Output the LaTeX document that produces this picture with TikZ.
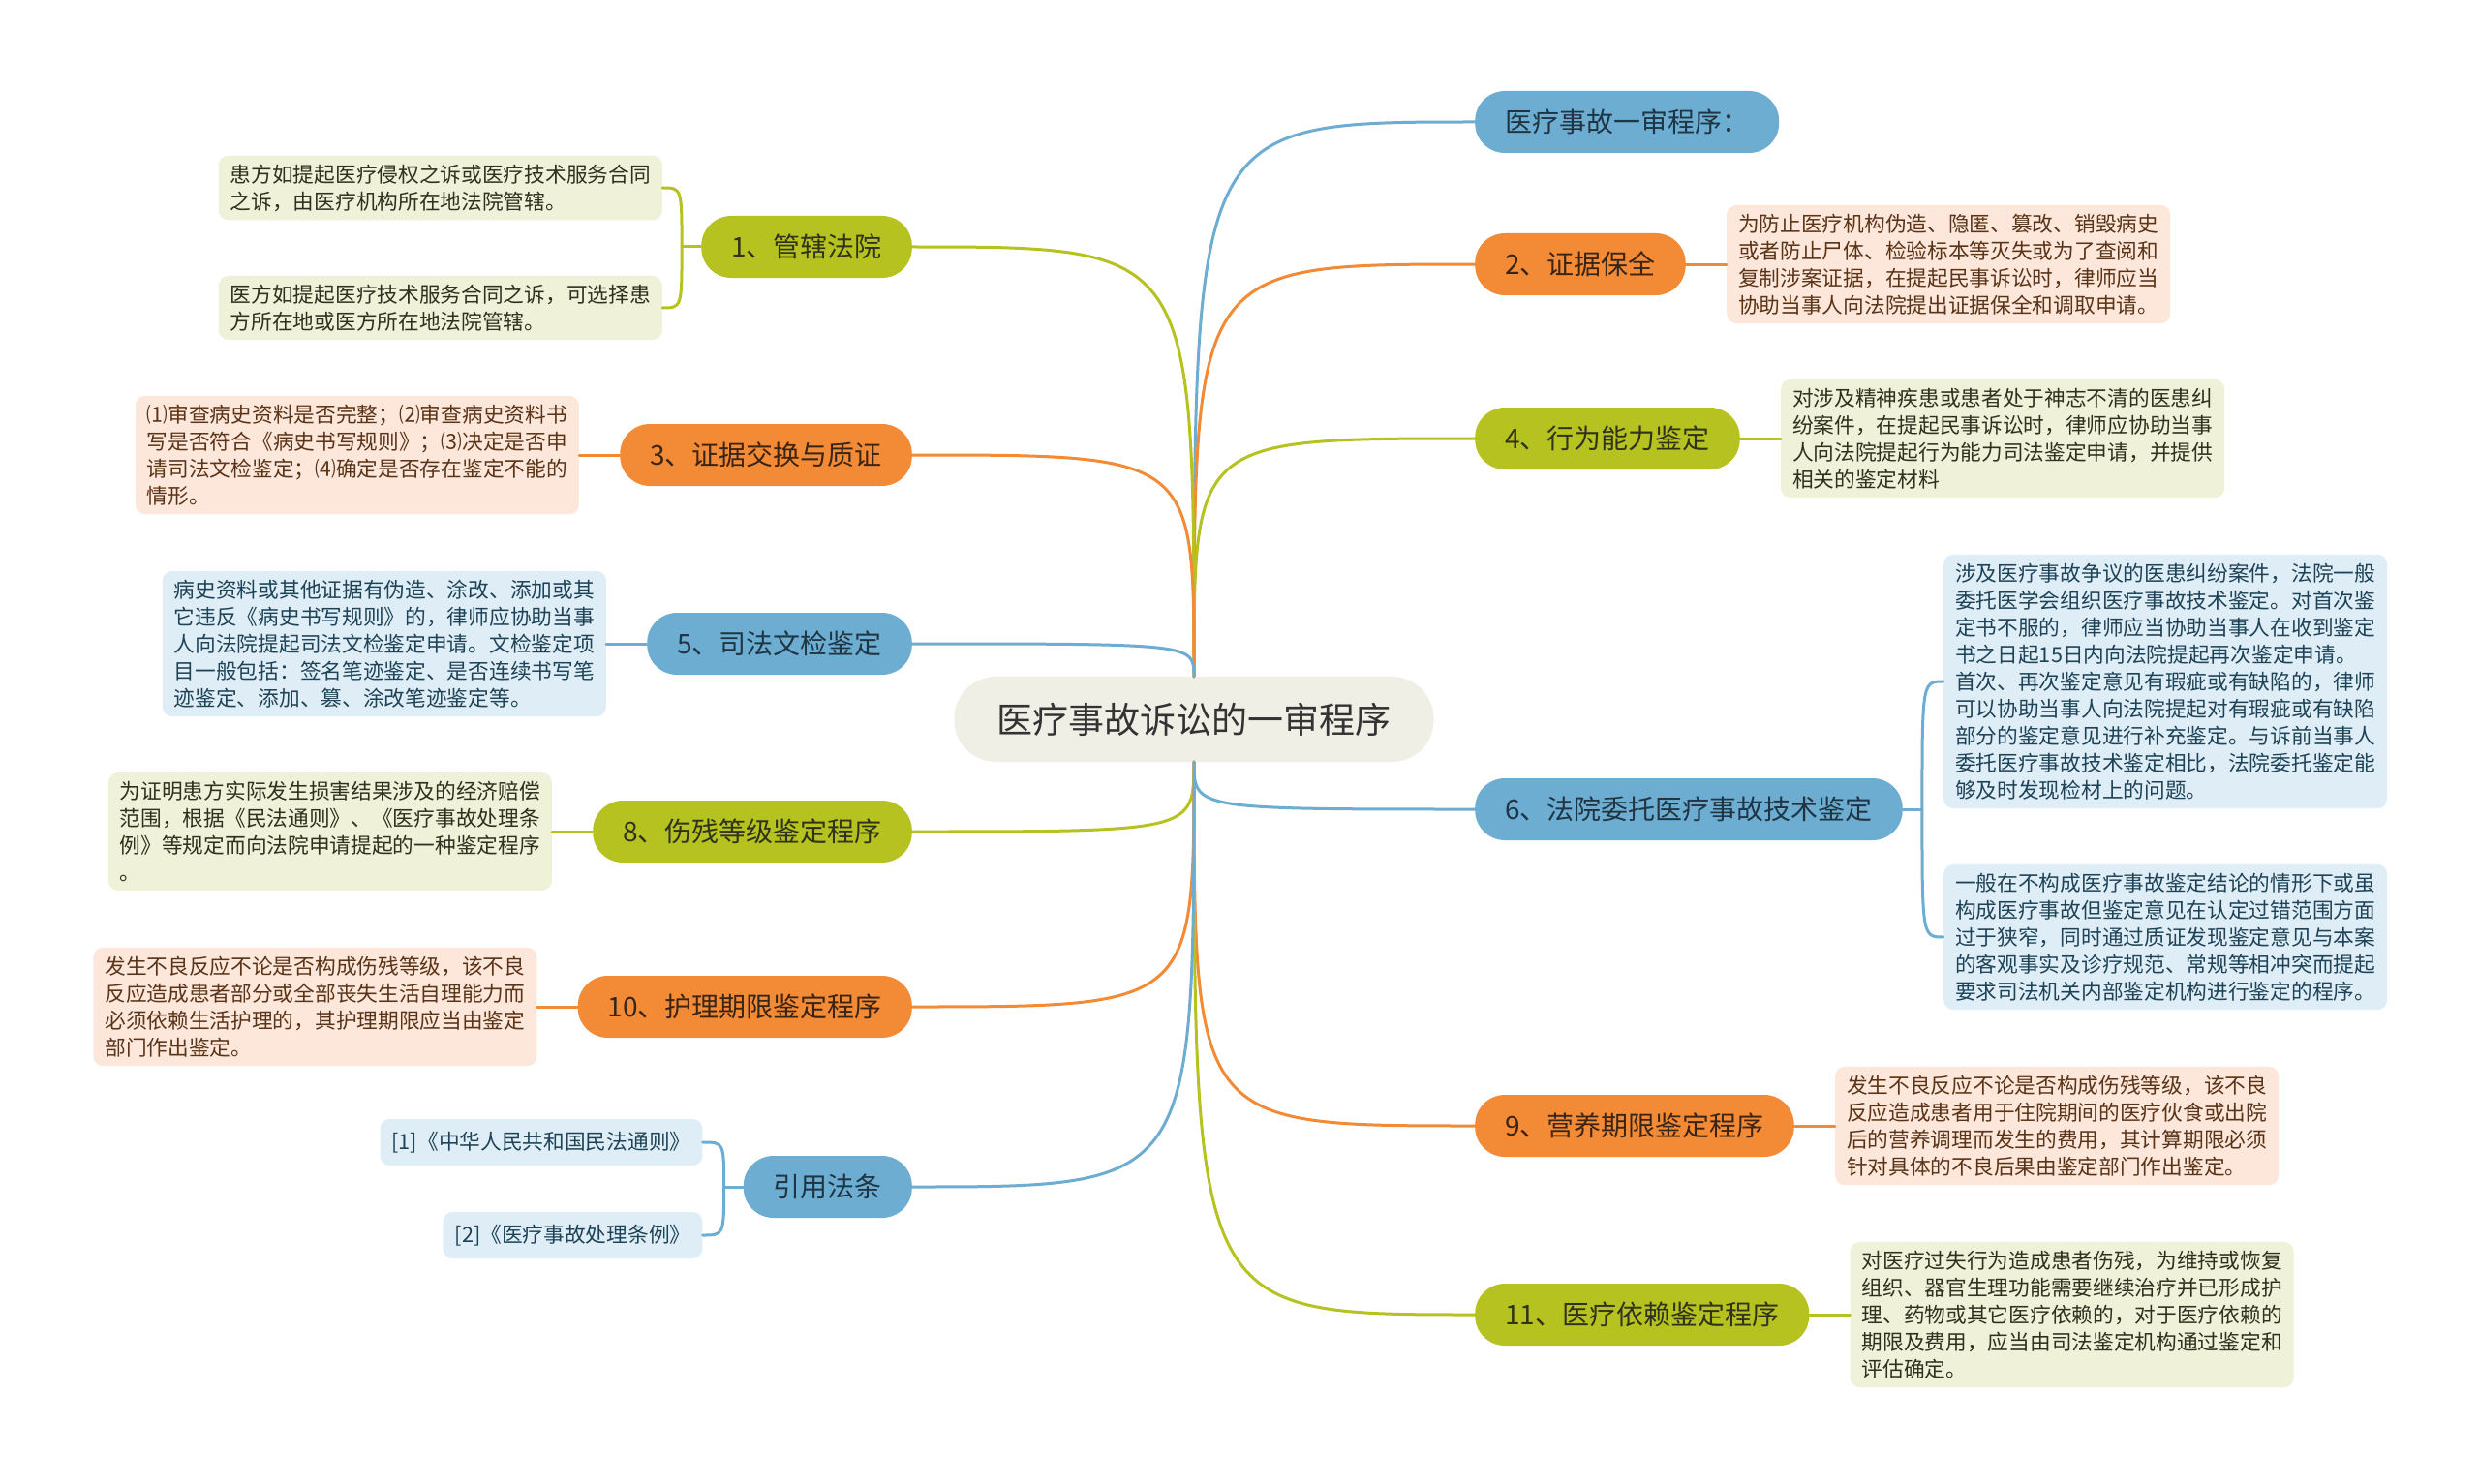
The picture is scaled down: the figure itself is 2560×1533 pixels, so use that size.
\documentclass[tikz,border=0pt]{standalone}
\usepackage{fontspec}
\setmainfont{Noto Sans CJK SC}
\usetikzlibrary{positioning}
\definecolor{rootbg}{HTML}{EFEFE6}
\definecolor{rootfg}{HTML}{333333}
\definecolor{cB}{HTML}{6CADD1}
\definecolor{cO}{HTML}{F38A36}
\definecolor{cG}{HTML}{B6C21F}
\definecolor{lB}{HTML}{DFEEF6}
\definecolor{lO}{HTML}{FDE7DA}
\definecolor{lG}{HTML}{EFF1D8}
\definecolor{fB}{HTML}{1E4358}
\definecolor{fO}{HTML}{5A3418}
\definecolor{fG}{HTML}{2F3120}
\definecolor{tB}{HTML}{1F3544}
\definecolor{tO}{HTML}{3A2414}
\definecolor{tG}{HTML}{30321A}
\begin{document}
\begin{tikzpicture}[x=1pt,y=-1pt,
        root/.style={rectangle,rounded corners=43pt,fill=rootbg,text=rootfg,minimum height=88pt,inner xsep=44pt,font=\fontsize{37}{44}\selectfont},
        topic/.style={rectangle,rounded corners=31pt,minimum height=64pt,inner xsep=31pt,font=\fontsize{28}{32}\selectfont},
        topicB/.style={topic,fill=cB,text=tB},
        topicO/.style={topic,fill=cO,text=tO},
        topicG/.style={topic,fill=cG,text=tG},
        leaf/.style={rectangle,rounded corners=10pt,align=left,inner xsep=12pt,inner ysep=9pt,minimum width=458pt,font=\fontsize{21.7}{28}\selectfont},
        leafB/.style={leaf,fill=lB,text=fB},
        leafO/.style={leaf,fill=lO,text=fO},
        leafG/.style={leaf,fill=lG,text=fG},
        cite/.style={rectangle,rounded corners=10pt,fill=lB,text=fB,minimum height=48pt,inner xsep=12pt,font=\fontsize{21.7}{28}\selectfont},
        link/.style={line width=3pt,line cap=round},
        linkB/.style={link,draw=cB},
        linkO/.style={link,draw=cO},
        linkG/.style={link,draw=cG},
        node distance=42pt
        ]
        \useasboundingbox[fill=white] (0,0) rectangle (2560,1533);
        \node (c) [root] at (1233,743) {医疗事故诉讼的一审程序};

        \node (t0) [topicB,anchor=west] at (1523,126) {医疗事故一审程序：};
        \node (t2) [topicO,anchor=west] at (1523,273) {2、证据保全};
        \node (t4) [topicG,anchor=west] at (1523,453) {4、行为能力鉴定};
        \node (t6) [topicB,anchor=west] at (1523,836) {6、法院委托医疗事故技术鉴定};
        \node (t9) [topicO,anchor=west] at (1523,1163) {9、营养期限鉴定程序};
        \node (t11) [topicG,anchor=west] at (1523,1358) {11、医疗依赖鉴定程序};
        \node (t1) [topicG,anchor=east] at (942,255) {1、管辖法院};
        \node (t3) [topicO,anchor=east] at (942,470) {3、证据交换与质证};
        \node (t5) [topicB,anchor=east] at (942,665) {5、司法文检鉴定};
        \node (t8) [topicG,anchor=east] at (942,859) {8、伤残等级鉴定程序};
        \node (t10) [topicO,anchor=east] at (942,1040) {10、护理期限鉴定程序};
        \node (tr) [topicB,anchor=east] at (942,1226) {引用法条};

        \node (n2) [leafO,right=of t2] {为防止医疗机构伪造、隐匿、篡改、销毁病史\\或者防止尸体、检验标本等灭失或为了查阅和\\复制涉案证据，在提起民事诉讼时，律师应当\\协助当事人向法院提出证据保全和调取申请。};
        \node (n4) [leafG,right=of t4] {对涉及精神疾患或患者处于神志不清的医患纠\\纷案件，在提起民事诉讼时，律师应协助当事\\人向法院提起行为能力司法鉴定申请，并提供\\相关的鉴定材料};
        \node (n6a) [leafB,right=of t6,yshift=132pt] {涉及医疗事故争议的医患纠纷案件，法院一般\\委托医学会组织医疗事故技术鉴定。对首次鉴\\定书不服的，律师应当协助当事人在收到鉴定\\书之日起15日内向法院提起再次鉴定申请。\\首次、再次鉴定意见有瑕疵或有缺陷的，律师\\可以协助当事人向法院提起对有瑕疵或有缺陷\\部分的鉴定意见进行补充鉴定。与诉前当事人\\委托医疗事故技术鉴定相比，法院委托鉴定能\\够及时发现检材上的问题。};
        \node (n6b) [leafB,right=of t6,yshift=-132pt] {一般在不构成医疗事故鉴定结论的情形下或虽\\构成医疗事故但鉴定意见在认定过错范围方面\\过于狭窄，同时通过质证发现鉴定意见与本案\\的客观事实及诊疗规范、常规等相冲突而提起\\要求司法机关内部鉴定机构进行鉴定的程序。};
        \node (n9) [leafO,right=of t9] {发生不良反应不论是否构成伤残等级，该不良\\反应造成患者用于住院期间的医疗伙食或出院\\后的营养调理而发生的费用，其计算期限必须\\针对具体的不良后果由鉴定部门作出鉴定。};
        \node (n11) [leafG,right=of t11] {对医疗过失行为造成患者伤残，为维持或恢复\\组织、器官生理功能需要继续治疗并已形成护\\理、药物或其它医疗依赖的，对于医疗依赖的\\期限及费用，应当由司法鉴定机构通过鉴定和\\评估确定。};
        \node (n1a) [leafG,left=40pt of t1,yshift=61pt] {患方如提起医疗侵权之诉或医疗技术服务合同\\之诉，由医疗机构所在地法院管辖。};
        \node (n1b) [leafG,left=40pt of t1,yshift=-63pt] {医方如提起医疗技术服务合同之诉，可选择患\\方所在地或医方所在地法院管辖。};
        \node (n3) [leafO,left=of t3] {⑴审查病史资料是否完整；⑵审查病史资料书\\写是否符合《病史书写规则》；⑶决定是否申\\请司法文检鉴定；⑷确定是否存在鉴定不能的\\情形。};
        \node (n5) [leafB,left=of t5] {病史资料或其他证据有伪造、涂改、添加或其\\它违反《病史书写规则》的，律师应协助当事\\人向法院提起司法文检鉴定申请。文检鉴定项\\目一般包括：签名笔迹鉴定、是否连续书写笔\\迹鉴定、添加、篡、涂改笔迹鉴定等。};
        \node (n8) [leafG,left=of t8] {为证明患方实际发生损害结果涉及的经济赔偿\\范围，根据《民法通则》、《医疗事故处理条\\例》等规定而向法院申请提起的一种鉴定程序\\。};
        \node (n10) [leafO,left=of t10] {发生不良反应不论是否构成伤残等级，该不良\\反应造成患者部分或全部丧失生活自理能力而\\必须依赖生活护理的，其护理期限应当由鉴定\\部门作出鉴定。};
        \node (ra) [cite,left=of tr,yshift=46pt] {[1]《中华人民共和国民法通则》};
        \node (rb) [cite,left=of tr,yshift=-50pt] {[2]《医疗事故处理条例》};

        \draw[linkB] (c.north) .. controls (c.north |- t0.west) .. (t0.west);
        \draw[linkO] (c.north) .. controls (c.north |- t2.west) .. (t2.west);
        \draw[linkG] (c.north) .. controls (c.north |- t4.west) .. (t4.west);
        \draw[linkB] (c.south) .. controls (c.south |- t6.west) .. (t6.west);
        \draw[linkO] (c.south) .. controls (c.south |- t9.west) .. (t9.west);
        \draw[linkG] (c.south) .. controls (c.south |- t11.west) .. (t11.west);
        \draw[linkG] (c.north) .. controls (c.north |- t1.east) .. (t1.east);
        \draw[linkO] (c.north) .. controls (c.north |- t3.east) .. (t3.east);
        \draw[linkB] (c.north) .. controls (c.north |- t5.east) .. (t5.east);
        \draw[linkG] (c.south) .. controls (c.south |- t8.east) .. (t8.east);
        \draw[linkO] (c.south) .. controls (c.south |- t10.east) .. (t10.east);
        \draw[linkB] (c.south) .. controls (c.south |- tr.east) .. (tr.east);

        \draw[linkO] (t2) -- (n2);
        \draw[linkG] (t4) -- (n4);
        \draw[linkO] (t9) -- (n9);
        \draw[linkG] (t11) -- (n11);
        \draw[linkO] (t3) -- (n3);
        \draw[linkB] (t5) -- (n5);
        \draw[linkG] (t8) -- (n8);
        \draw[linkO] (t10) -- (n10);

        \draw[linkG] (t1.west) -- ++(-20,0) coordinate (j1);
        \draw[linkG] (j1) .. controls (j1 |- n1a.east) .. (n1a.east);
        \draw[linkG] (j1) .. controls (j1 |- n1b.east) .. (n1b.east);
        \draw[linkB] (tr.west) -- ++(-20,0) coordinate (jr);
        \draw[linkB] (jr) .. controls (jr |- ra.east) .. (ra.east);
        \draw[linkB] (jr) .. controls (jr |- rb.east) .. (rb.east);
        \draw[linkB] (t6.east) -- ++(20,0) coordinate (j6);
        \draw[linkB] (j6) .. controls (j6 |- n6a.west) .. (n6a.west);
        \draw[linkB] (j6) .. controls (j6 |- n6b.west) .. (n6b.west);
\end{tikzpicture}
\end{document}
